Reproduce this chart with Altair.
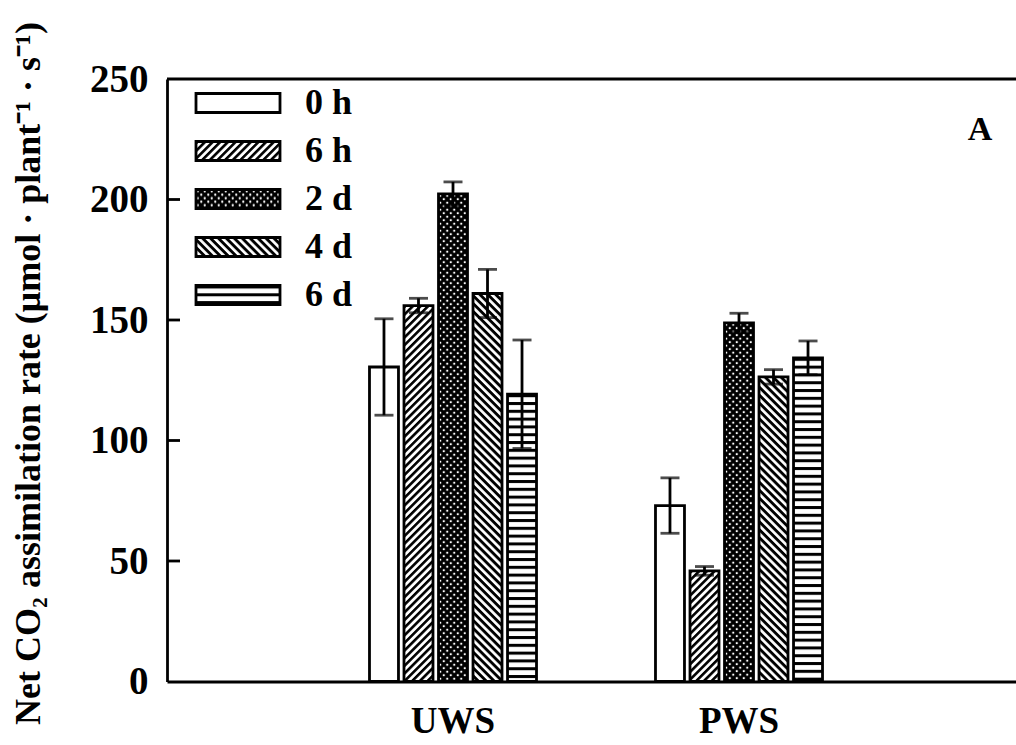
import base64

import altair as alt
import pandas as pd

# Net CO2 assimilation per plant, mean and standard error per treatment and time
groups = ["UWS", "PWS"]
series = ["0 h", "6 h", "2 d", "4 d", "6 d"]
uws_mean = [130.5, 156.0, 202.3, 161.0, 119.2]
uws_err = [20.0, 3.0, 5.0, 10.0, 22.5]
pws_mean = [73.0, 45.9, 148.8, 126.4, 134.3]
pws_err = [11.5, 1.8, 4.0, 3.0, 7.0]
y_ticks = [0, 50, 100, 150, 200, 250]

FONT = "Liberation Serif"
INK = "black"


def pattern_url(pattern):
    """Tile an SVG <pattern> over the whole image box (no viewBox, so no scaling)."""
    svg = (
        "<svg xmlns='http://www.w3.org/2000/svg'><defs>" + pattern + "</defs>"
        "<rect width='100%' height='100%' fill='url(#p)'/></svg>"
    )
    return "data:image/svg+xml;base64," + base64.b64encode(svg.encode()).decode()


fills = {
    "0 h": pattern_url(
        "<pattern id='p' width='4' height='4' patternUnits='userSpaceOnUse'>"
        "<rect width='4' height='4' fill='white'/></pattern>"
    ),
    "6 h": pattern_url(
        "<pattern id='p' width='5.4' height='5.4' patternUnits='userSpaceOnUse' "
        "patternTransform='rotate(-45)'><rect width='5.4' height='5.4' fill='white'/>"
        "<rect width='5.4' height='2.6' fill='black'/></pattern>"
    ),
    "2 d": pattern_url(
        "<pattern id='p' width='7' height='7' patternUnits='userSpaceOnUse'>"
        "<rect width='7' height='7' fill='black'/>"
        "<circle cx='1.75' cy='1.75' r='1.15' fill='white'/>"
        "<circle cx='5.25' cy='5.25' r='1.15' fill='white'/></pattern>"
    ),
    "4 d": pattern_url(
        "<pattern id='p' width='5.6' height='5.6' patternUnits='userSpaceOnUse' "
        "patternTransform='rotate(45)'><rect width='5.6' height='5.6' fill='white'/>"
        "<rect width='5.6' height='2.9' fill='black'/></pattern>"
    ),
    "6 d": pattern_url(
        "<pattern id='p' width='8' height='7.8' patternUnits='userSpaceOnUse'>"
        "<rect width='8' height='7.8' fill='white'/>"
        "<rect width='8' height='3' fill='black'/></pattern>"
    ),
}

rows = []
for g, means, errs in [("UWS", uws_mean, uws_err), ("PWS", pws_mean, pws_err)]:
    for s, m, e in zip(series, means, errs):
        rows.append({"group": g, "series": s, "mean": m, "lo": m - e, "hi": m + e, "url": fills[s]})
bars = pd.DataFrame(rows)
legend_df = pd.DataFrame({"series": series, "url": [fills[s] for s in series]})
tick_df = pd.DataFrame({"v": y_ticks[1:-1]})

W, H = 849, 602.5

x_enc = alt.X(
    "group:N",
    sort=groups,
    scale=alt.Scale(domain=groups, range=[0, 858], paddingInner=0.416, paddingOuter=0.708),
    axis=alt.Axis(
        title=None, ticks=False, tickSize=0, domainColor=INK, domainWidth=2.8,
        labelFont=FONT, labelFontWeight="bold", labelFontSize=37, labelColor=INK,
        labelAngle=0, labelPadding=22, labelBaseline="top",
    ),
)
xo_enc = alt.XOffset("series:N", sort=series, scale=alt.Scale(domain=series, paddingInner=0.16, paddingOuter=0))
y_scale = alt.Scale(domain=[0, 250], nice=False, zero=True)
y_axis = alt.Axis(
    values=y_ticks, grid=False, ticks=False, tickSize=0,
    domainColor=INK, domainWidth=2.8,
    labelFont=FONT, labelFontWeight="bold", labelFontSize=39, labelColor=INK, labelPadding=19,
    title="Net CO\u2082 assimilation rate (\u03bcmol \u00b7 plant\u207b\u00b9 \u00b7 s\u207b\u00b9)",
    titleFont=FONT, titleFontWeight="bold", titleFontSize=36, titleColor=INK,
    titleAngle=270, titleAlign="center", titleBaseline="middle", titleX=-139, titleY=294,
)

texture = alt.Chart(bars).mark_image(aspect=False).encode(
    x=x_enc, xOffset=xo_enc,
    y=alt.Y("mean:Q", scale=y_scale, axis=y_axis),
    url="url:N",
)
outline = alt.Chart(bars).mark_bar(fill="transparent", stroke=INK, strokeWidth=2.8).encode(
    x=alt.X("group:N", sort=groups), xOffset=alt.XOffset("series:N", sort=series), y="mean:Q",
)
err_line = alt.Chart(bars).mark_rule(color=INK, strokeWidth=2.8).encode(
    x=alt.X("group:N", sort=groups), xOffset=alt.XOffset("series:N", sort=series), y="lo:Q", y2="hi:Q",
)
cap_hi = alt.Chart(bars).mark_tick(color=INK, thickness=2.8, size=19).encode(
    x=alt.X("group:N", sort=groups), xOffset=alt.XOffset("series:N", sort=series), y="hi:Q",
)
cap_lo = alt.Chart(bars).mark_tick(color=INK, thickness=2.8, size=19).encode(
    x=alt.X("group:N", sort=groups), xOffset=alt.XOffset("series:N", sort=series), y="lo:Q",
)
inner_ticks = alt.Chart(tick_df).mark_rule(color=INK, strokeWidth=2.8).encode(
    x=alt.value(0), x2=alt.value(13), y="v:Q",
)
top_border = alt.Chart(alt.Data(values=[{}])).mark_rule(color=INK, strokeWidth=2.8).encode(
    x=alt.value(0), x2=alt.value(858), y=alt.value(0),
)
panel_tag = alt.Chart(alt.Data(values=[{}])).mark_text(
    text="A", font=FONT, fontWeight="bold", fontSize=34, color=INK, align="center", baseline="middle",
).encode(x=alt.value(813), y=alt.value(51))

main = alt.layer(texture, outline, err_line, cap_hi, cap_lo, inner_ticks, top_border, panel_tag)

leg_y = alt.Y(
    "series:N", sort=series,
    scale=alt.Scale(type="point", domain=series, range=[24, 216], padding=0), axis=None,
)
leg_img = alt.Chart(legend_df).mark_image(aspect=False, height=19).encode(
    x=alt.value(29), x2=alt.value(113), y=leg_y, url="url:N",
)
leg_box = alt.Chart(legend_df).mark_rect(fill="transparent", stroke=INK, strokeWidth=2.8, height=19).encode(
    x=alt.value(29), x2=alt.value(113), y=leg_y,
)
leg_txt = alt.Chart(legend_df).mark_text(
    align="left", baseline="middle", font=FONT, fontWeight="bold", fontSize=36, color=INK,
).encode(x=alt.value(138), y=leg_y, text="series:N")
legend = alt.layer(leg_img, leg_box, leg_txt)

chart = (
    alt.layer(main, legend)
    .resolve_scale(y="independent")
    .properties(
        width=W, height=H,
        autosize=alt.AutoSizeParams(type="none"),
        padding={"left": 167, "top": 79, "right": 0, "bottom": 63.5},
        background="white",
    )
    .configure_view(stroke=None)
)

chart.save("out.html", embed_options={"renderer": "svg", "actions": False})
